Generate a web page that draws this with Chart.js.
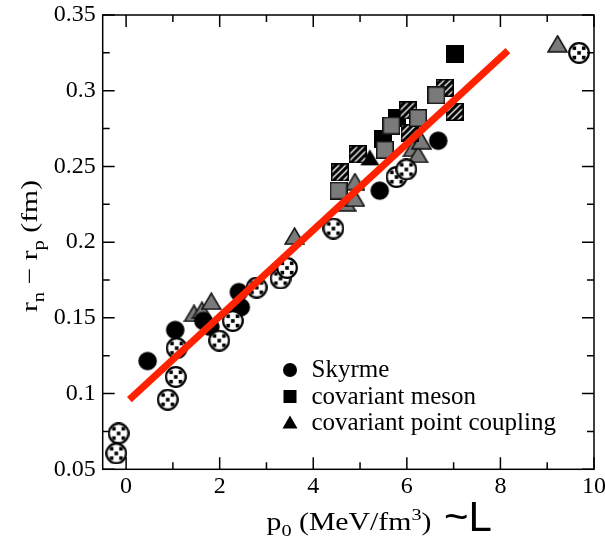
<!DOCTYPE html>
<html>
<head>
<meta charset="utf-8">
<script src="https://cdn.jsdelivr.net/npm/chart.js@4.4.0/dist/chart.umd.min.js"></script>
<style>
    html, body { margin: 0; padding: 0; background: #fff; }
    #wrap { width: 605px; height: 543px; position: relative; }
</style>
</head>
<body>
<div id="wrap"><canvas id="myChart"></canvas></div>
<script>
// values: [p0, rn - rp]
const skyrmeFilled = [[0.46, 0.1215], [1.05, 0.142], [1.65, 0.148], [1.80, 0.144], [2.41, 0.167], [2.45, 0.157], [5.42, 0.234], [6.67, 0.267]];
const skyrmeChecked = [[-0.16, 0.0737], [-0.21, 0.0605], [0.89, 0.096], [1.06, 0.111], [1.08, 0.130], [1.99, 0.135], [2.28, 0.148], [2.79, 0.170], [3.30, 0.176], [3.44, 0.183], [4.43, 0.209], [5.78, 0.243], [5.99, 0.248], [9.68, 0.325]];
const mesonFilled = [[5.50, 0.268], [5.78, 0.282], [7.02, 0.324]];
const mesonStriped = [[4.57, 0.246], [4.95, 0.258], [6.03, 0.287], [6.06, 0.272], [6.81, 0.302], [7.02, 0.286]];
const mesonGray = [[4.54, 0.234], [5.53, 0.261], [5.67, 0.277], [6.24, 0.282], [6.63, 0.297]];
const pcFilled = [[5.21, 0.256]];
const pcGray = [[1.45, 0.153], [1.62, 0.155], [1.82, 0.161], [3.60, 0.204], [4.70, 0.226], [4.89, 0.229], [4.89, 0.240], [6.13, 0.262], [6.24, 0.258], [6.31, 0.267], [9.22, 0.331]];
const fitLine = [[0.07, 0.096], [8.16, 0.3265]];

const xTickValues = [0, 2, 4, 6, 8, 10];
const yTickValues = [0.05, 0.1, 0.15, 0.2, 0.25, 0.3, 0.35];
const legendLabels = ['Skyrme', 'covariant meson', 'covariant point coupling'];

const SERIF = "'Liberation Serif', 'Times New Roman', serif";

function pts(a) { return a.map(p => ({x: p[0], y: p[1]})); }

function marker(w, h, draw) {
    const c = document.createElement('canvas');
    c.width = w; c.height = h;
    draw(c.getContext('2d'), w, h);
    return c;
}

function circlePath(g, s) {
    g.beginPath();
    g.arc(s / 2, s / 2, s / 2 - 1.2, 0, Math.PI * 2);
}

const blackCircle = marker(21, 21, (g, s) => { circlePath(g, s); g.fillStyle = '#000'; g.fill(); });
const checkCircle = marker(22, 22, (g, s) => {
    circlePath(g, s);
    g.fillStyle = '#fff'; g.fill();
    g.lineWidth = 2.2; g.strokeStyle = '#000'; g.stroke();
    g.fillStyle = '#000';
    const c = s / 2;
    [[0, 0], [-4.7, -4.7], [4.7, -4.7], [-4.7, 4.7], [4.7, 4.7]].forEach(d => {
        g.fillRect(c + d[0] - 1.8, c + d[1] - 1.8, 3.6, 3.6);
    });
});
const blackSquare = marker(18, 18, (g, s) => { g.fillStyle = '#000'; g.fillRect(0, 0, s, s); });
const graySquare = marker(18, 18, (g, s) => {
    g.fillStyle = '#7a7a7a'; g.fillRect(0, 0, s, s);
    g.lineWidth = 1.5; g.strokeStyle = '#111'; g.strokeRect(0.75, 0.75, s - 1.5, s - 1.5);
});
const stripeSquare = marker(18, 18, (g, s) => {
    g.fillStyle = '#fff'; g.fillRect(0, 0, s, s);
    g.save();
    g.beginPath(); g.rect(0, 0, s, s); g.clip();
    g.strokeStyle = '#000'; g.lineWidth = 3.2;
    for (let k = -s; k < 2 * s; k += 6.5) {
        g.beginPath(); g.moveTo(k, s); g.lineTo(k + s, 0); g.stroke();
    }
    g.restore();
    g.lineWidth = 1.5; g.strokeStyle = '#000'; g.strokeRect(0.75, 0.75, s - 1.5, s - 1.5);
});
function triPath(g, w, h) {
    g.beginPath();
    g.moveTo(w / 2, 1); g.lineTo(w - 1, h - 1); g.lineTo(1, h - 1); g.closePath();
}
const blackTriangle = marker(21, 18, (g, w, h) => { triPath(g, w, h); g.fillStyle = '#000'; g.fill(); });
const grayTriangle = marker(21, 18, (g, w, h) => {
    triPath(g, w, h);
    g.fillStyle = '#7a7a7a'; g.fill();
    g.lineWidth = 1.5; g.strokeStyle = '#111'; g.stroke();
});

// frame, inward ticks, axis titles and legend
const decorPlugin = {
    id: 'decor',
    afterDraw(chart) {
        const c = chart.ctx;
        const a = chart.chartArea;
        const xs = chart.scales.x, ys = chart.scales.y;
        c.save();
        c.strokeStyle = '#000';
        c.lineWidth = 1.5;
        c.strokeRect(a.left, a.top, a.right - a.left, a.bottom - a.top);

        for (let v = 0; v <= 10; v += 1) {
            const px = xs.getPixelForValue(v);
            const len = v % 2 === 0 ? 12 : 7;
            c.beginPath();
            c.moveTo(px, a.bottom); c.lineTo(px, a.bottom - len);
            c.moveTo(px, a.top); c.lineTo(px, a.top + len);
            c.stroke();
        }
        for (let i = 0; i <= 12; i++) {
            const v = 0.05 + i * 0.025;
            const py = ys.getPixelForValue(v);
            const len = i % 2 === 0 ? 12 : 7;
            c.beginPath();
            c.moveTo(a.left, py); c.lineTo(a.left + len, py);
            c.moveTo(a.right, py); c.lineTo(a.right - len, py);
            c.stroke();
        }

        c.fillStyle = '#000';
        c.textBaseline = 'alphabetic';
        c.textAlign = 'left';

        // y title, rotated
        const big = '23px ' + SERIF, small = '16px ' + SERIF;
        const yParts = [['r', big, 0], ['n', small, 7], [' \u2212 ', big, 0], ['r', big, 0], ['p', small, 7], [' (fm)', big, 0]];
        let w = 0;
        yParts.forEach(p => { c.font = p[1]; w += c.measureText(p[0]).width; });
        c.save();
        c.translate(37, 312);
        c.rotate(-Math.PI / 2);
        c.scale(132 / w, 1);
        let x = 0;
        yParts.forEach(p => { c.font = p[1]; c.fillText(p[0], x, p[2]); x += c.measureText(p[0]).width; });
        c.restore();

        // x title
        const xb = '25px ' + SERIF, xsm = '17px ' + SERIF;
        const xParts = [['p', xb, 0], ['0', xsm, 6], [' (MeV/fm', xb, 0], ['3', xsm, -10], [')', xb, 0]];
        w = 0;
        xParts.forEach(p => { c.font = p[1]; w += c.measureText(p[0]).width; });
        c.save();
        c.translate(266.5, 530);
        c.scale(165 / w, 1);
        x = 0;
        xParts.forEach(p => { c.font = p[1]; c.fillText(p[0], x, p[2]); x += c.measureText(p[0]).width; });
        c.restore();

        c.font = "42px 'Liberation Sans', Arial, sans-serif";
        c.fillText('~L', 444, 531);

        // legend
        const lx = 290, ly = [370, 396.5, 422.5];
        c.beginPath(); c.arc(lx, ly[0], 7, 0, Math.PI * 2); c.fill();
        c.fillRect(lx - 6.5, ly[1] - 6.5, 13, 13);
        c.beginPath(); c.moveTo(lx, ly[2] - 7); c.lineTo(lx + 7.5, ly[2] + 6); c.lineTo(lx - 7.5, ly[2] + 6); c.closePath(); c.fill();
        c.font = '25px ' + SERIF;
        legendLabels.forEach((t, i) => c.fillText(t, 311.5, ly[i] + 7));
        c.restore();
    }
};

const ctx = document.getElementById('myChart');
const tickFont = {family: SERIF, size: 24};

new Chart(ctx, {
    type: 'scatter',
    data: {
        datasets: [
            {type: 'line', label: 'fit', data: pts(fitLine), borderColor: '#ff2200', borderWidth: 7, borderCapStyle: 'butt', pointRadius: 0, order: 0},
            {label: legendLabels[0], data: pts(skyrmeChecked), pointStyle: checkCircle, pointRadius: 10, order: 1},
            {label: legendLabels[0], data: pts(skyrmeFilled), pointStyle: blackCircle, pointRadius: 10, order: 1},
            {label: legendLabels[1], data: pts(mesonGray), pointStyle: graySquare, pointRadius: 9, order: 1},
            {label: legendLabels[1], data: pts(mesonStriped), pointStyle: stripeSquare, pointRadius: 9, order: 1},
            {label: legendLabels[1], data: pts(mesonFilled), pointStyle: blackSquare, pointRadius: 9, order: 1},
            {label: legendLabels[2], data: pts(pcGray), pointStyle: grayTriangle, pointRadius: 9, order: 1},
            {label: legendLabels[2], data: pts(pcFilled), pointStyle: blackTriangle, pointRadius: 9, order: 1}
        ]
    },
    options: {
        responsive: true,
        maintainAspectRatio: false,
        animation: false,
        layout: {padding: {top: 15, right: 8.3, left: 0, bottom: 0}},
        plugins: {legend: {display: false}, tooltip: {enabled: false}},
        scales: {
            x: {
                type: 'linear', min: -0.5, max: 10,
                grid: {display: false, drawTicks: false},
                border: {display: false},
                ticks: {font: tickFont, color: '#000', padding: 3, maxRotation: 0, autoSkip: false},
                afterBuildTicks: s => { s.ticks = xTickValues.map(v => ({value: v})); },
                afterFit: s => { s.height = 73.7; s.paddingLeft = 0; s.paddingRight = 0; }
            },
            y: {
                type: 'linear', min: 0.05, max: 0.35,
                grid: {display: false, drawTicks: false},
                border: {display: false},
                ticks: {font: tickFont, color: '#000', padding: 7, autoSkip: false, callback: v => String(+v.toFixed(2))},
                afterBuildTicks: s => { s.ticks = yTickValues.map(v => ({value: v})); },
                afterFit: s => { s.width = 102.7; s.paddingTop = 0; s.paddingBottom = 0; }
            }
        }
    },
    plugins: [decorPlugin]
});
</script>
</body>
</html>
